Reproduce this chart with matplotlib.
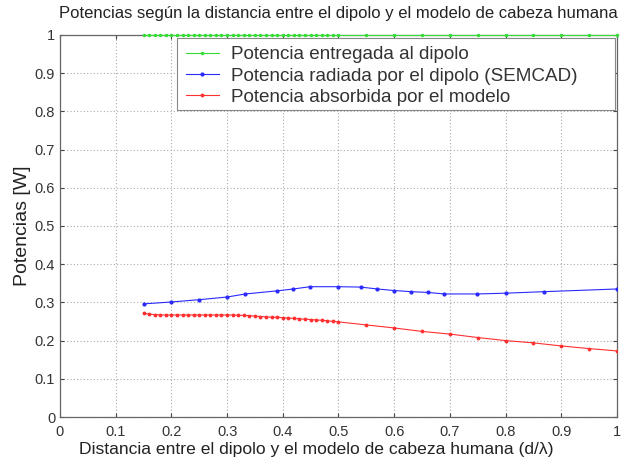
import matplotlib
matplotlib.use("Agg")
import matplotlib.pyplot as plt
from matplotlib.patches import Rectangle

plt.rcParams['font.family'] = ['Liberation Sans', 'DejaVu Sans']

title = "Potencias según la distancia entre el dipolo y el modelo de cabeza humana"
xlabel = "Distancia entre el dipolo y el modelo de cabeza humana (d/λ)"
ylabel = "Potencias [W]"
labels = ["Potencia entregada al dipolo",
          "Potencia radiada por el dipolo (SEMCAD)",
          "Potencia absorbida por el modelo"]

x_green = [0.15, 0.16, 0.17, 0.18, 0.19, 0.20, 0.21, 0.22, 0.23, 0.24, 0.25, 0.26,
           0.27, 0.28, 0.29, 0.30, 0.31, 0.32, 0.33, 0.34, 0.35, 0.36, 0.37, 0.38,
           0.39, 0.40, 0.41, 0.42, 0.43, 0.44, 0.45, 0.46, 0.47, 0.48, 0.49, 0.50,
           0.55, 0.60, 0.65, 0.70, 0.75, 0.80, 0.85, 0.90, 0.95, 1.00]
y_green = [1.0] * len(x_green)

x_blue = [0.15, 0.20, 0.25, 0.30, 0.333, 0.389, 0.419, 0.449, 0.50, 0.54,
          0.57, 0.60, 0.63, 0.661, 0.69, 0.749, 0.80, 0.869, 1.00]
y_blue = [0.296, 0.301, 0.307, 0.314, 0.322, 0.330, 0.335, 0.341, 0.341, 0.340,
          0.335, 0.331, 0.328, 0.326, 0.322, 0.322, 0.324, 0.328, 0.335]

x_red = [0.15, 0.16, 0.17, 0.18, 0.19, 0.20, 0.21, 0.22, 0.23, 0.24, 0.25, 0.26,
         0.27, 0.28, 0.29, 0.30, 0.31, 0.32, 0.33, 0.34, 0.35, 0.36, 0.37, 0.38,
         0.39, 0.40, 0.41, 0.42, 0.43, 0.44, 0.45, 0.46, 0.47, 0.48, 0.49, 0.50,
         0.55, 0.60, 0.65, 0.70, 0.75, 0.80, 0.85, 0.90, 0.95, 1.00]
y_red = [0.272, 0.269, 0.268, 0.267, 0.267, 0.267, 0.267, 0.267, 0.267, 0.267,
         0.267, 0.267, 0.267, 0.267, 0.267, 0.267, 0.267, 0.266, 0.266, 0.265,
         0.264, 0.263, 0.262, 0.261, 0.261, 0.260, 0.259, 0.258, 0.257, 0.256,
         0.255, 0.254, 0.253, 0.252, 0.250, 0.249,
         0.241, 0.233, 0.224, 0.217, 0.208, 0.200, 0.194, 0.186, 0.179, 0.173]

xticks = [0, 0.1, 0.2, 0.3, 0.4, 0.5, 0.6, 0.7, 0.8, 0.9, 1]
yticks = [0, 0.1, 0.2, 0.3, 0.4, 0.5, 0.6, 0.7, 0.8, 0.9, 1]
xticklabels = ["0", "0.1", "0.2", "0.3", "0.4", "0.5", "0.6", "0.7", "0.8", "0.9", "1"]
yticklabels = ["0", "0.1", "0.2", "0.3", "0.4", "0.5", "0.6", "0.7", "0.8", "0.9", "1"]

fig = plt.figure(figsize=(6.25, 4.59), dpi=100)
ax = fig.add_axes([0.096, 0.0915, 0.891, 0.8325])

ax.plot(x_green, y_green, color="#33dd33", lw=0.8, marker='.', ms=3, label=labels[0], clip_on=False, zorder=3)
ax.plot(x_blue, y_blue, color="#2a2aff", lw=0.8, marker='.', ms=4, label=labels[1], zorder=3)
ax.plot(x_red, y_red, color="#ff3030", lw=0.8, marker='.', ms=3.5, label=labels[2], zorder=3)

ax.set_xlim(0, 1)
ax.set_ylim(0, 1)
ax.set_xticks(xticks)
ax.set_xticklabels(xticklabels)
ax.set_yticks(yticks)
ax.set_yticklabels(yticklabels)
ax.tick_params(direction='in', length=3, colors='#444444', labelsize=10.5, labelcolor='#333333')
ax.tick_params(axis='x', pad=6)
ax.tick_params(top=True, right=True)
ax.grid(True, linestyle=(0, (1, 2)), color='#aaaaaa', lw=0.8)
for s in ax.spines.values():
    s.set_color('#666666')
    s.set_linewidth(0.9)

ax.set_title(title, fontsize=12, color='#222222', pad=12)
ax.set_xlabel(xlabel, fontsize=12.6, color='#222222')
ax.xaxis.set_label_coords(0.461, -0.066)
ax.set_ylabel(ylabel, fontsize=14, color='#222222', labelpad=3)

# legend box (MATLAB-style, wider than its content)
box = Rectangle((0.210, 0.804), 0.7864, 0.188, transform=ax.transAxes,
                facecolor='white', edgecolor='#888888', lw=0.8, zorder=4)
ax.add_patch(box)
leg = ax.legend(loc='upper left', bbox_to_anchor=(0.217, 0.983), fontsize=13.6,
                frameon=False, handlelength=1.75, borderpad=0.25, labelspacing=0.22,
                handletextpad=0.65, borderaxespad=0.0)
leg.set_zorder(5)
for t in leg.get_texts():
    t.set_color('#333333')

fig.savefig("out.png", dpi=100)
